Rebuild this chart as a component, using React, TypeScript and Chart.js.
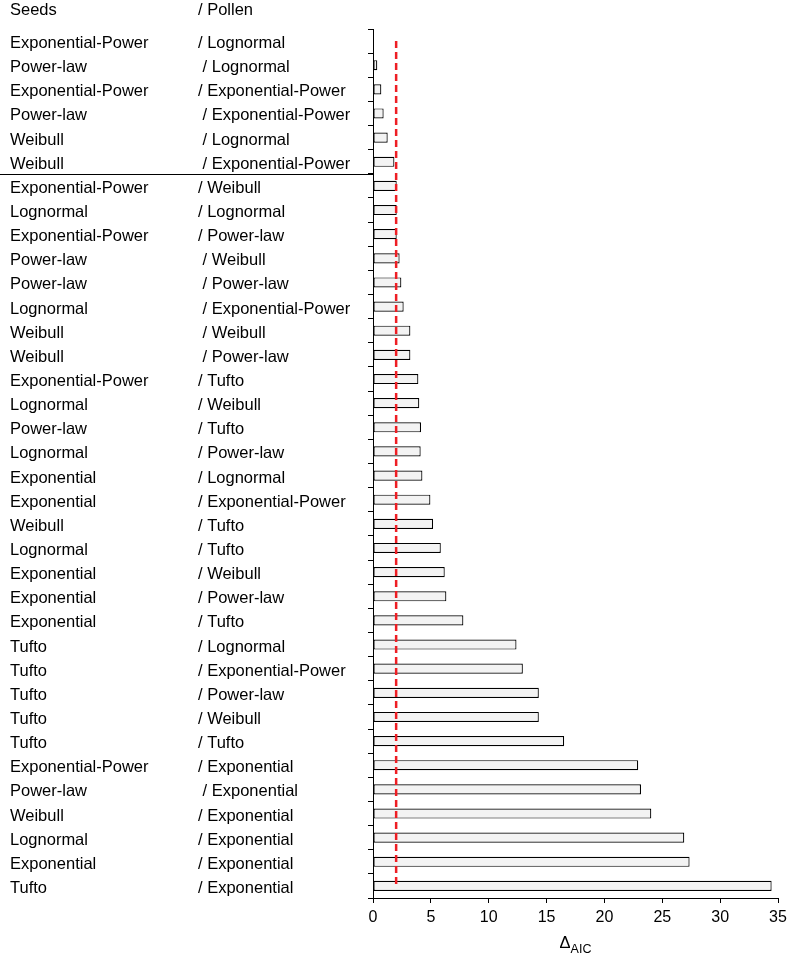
import React, { useEffect, useRef } from "react";
import { Chart, registerables } from "chart.js";

Chart.register(...registerables);

const seeds = [
  "Exponential-Power", "Power-law", "Exponential-Power", "Power-law", "Weibull", "Weibull",
  "Exponential-Power", "Lognormal", "Exponential-Power", "Power-law", "Power-law", "Lognormal",
  "Weibull", "Weibull", "Exponential-Power", "Lognormal", "Power-law", "Lognormal",
  "Exponential", "Exponential", "Weibull", "Lognormal", "Exponential", "Exponential",
  "Exponential", "Tufto", "Tufto", "Tufto", "Tufto", "Tufto",
  "Exponential-Power", "Power-law", "Weibull", "Lognormal", "Exponential", "Tufto",
];

const pollen = [
  "/ Lognormal", " / Lognormal", "/ Exponential-Power", " / Exponential-Power", " / Lognormal", " / Exponential-Power",
  "/ Weibull", "/ Lognormal", "/ Power-law", " / Weibull", " / Power-law", " / Exponential-Power",
  " / Weibull", " / Power-law", "/ Tufto", "/ Weibull", "/ Tufto", "/ Power-law",
  "/ Lognormal", "/ Exponential-Power", "/ Tufto", "/ Tufto", "/ Weibull", "/ Power-law",
  "/ Tufto", "/ Lognormal", "/ Exponential-Power", "/ Power-law", "/ Weibull", "/ Tufto",
  "/ Exponential", " / Exponential", "/ Exponential", "/ Exponential", "/ Exponential", "/ Exponential",
];

const deltaAIC = [
  0, 0.37, 0.72, 0.92, 1.27, 1.85,
  2.05, 2.05, 2.05, 2.3, 2.45, 2.65,
  3.23, 3.23, 3.92, 4.0, 4.15, 4.12,
  4.27, 4.96, 5.19, 5.86, 6.2, 6.34,
  7.81, 12.4, 12.95, 14.33, 14.33, 16.52,
  22.92, 23.16, 24.05, 26.9, 27.36, 34.45,
];

const xTicks = [0, 5, 10, 15, 20, 25, 30, 35];
const headerSeeds = "Seeds";
const headerPollen = "/ Pollen";
const threshold = 2;
const separatorAfterIndex = 5;
const titleMain = "\u0394";
const titleSub = "AIC";

const FONT = "'Liberation Sans', Arial, Helvetica, sans-serif";

export default function App() {
  const ref = useRef<HTMLCanvasElement | null>(null);

  useEffect(() => {
    const canvas = ref.current;
    if (!canvas) return;
    const labels = seeds.map((s, i) => `${s} ${pollen[i]}`);

    const overlay = {
      id: "overlay",
      afterDatasetsDraw(chart: any) {
        const { ctx, scales } = chart;
        const x = scales.x.getPixelForValue(threshold);
        const y0 = scales.y.getPixelForValue(0);
        const y1 = scales.y.getPixelForValue(labels.length - 1);
        ctx.save();
        ctx.strokeStyle = "rgb(238,30,36)";
        ctx.lineWidth = 2.5;
        ctx.setLineDash([7, 4]);
        ctx.beginPath();
        ctx.moveTo(x, y0);
        ctx.lineTo(x, y1);
        ctx.stroke();
        ctx.restore();
      },
      afterDraw(chart: any) {
        const { ctx, scales, chartArea } = chart;
        const ys = scales.y;
        ctx.save();
        ctx.fillStyle = "#000";
        ctx.font = `16.5px ${FONT}`;
        ctx.textAlign = "left";
        ctx.textBaseline = "alphabetic";
        const col1 = 10;
        const col2 = 198;
        ctx.fillText(headerSeeds, col1, chartArea.top - 14);
        ctx.fillText(headerPollen, col2, chartArea.top - 14);
        for (let i = 0; i < seeds.length; i++) {
          const y = ys.getPixelForValue(i) + 7;
          ctx.fillText(seeds[i], col1, y);
          ctx.fillText(pollen[i], col2, y);
        }
        // separator line
        const ySep = (ys.getPixelForValue(separatorAfterIndex) + ys.getPixelForValue(separatorAfterIndex + 1)) / 2;
        ctx.strokeStyle = "#000";
        ctx.lineWidth = 1;
        ctx.beginPath();
        ctx.moveTo(0, Math.round(ySep) + 0.5);
        ctx.lineTo(chartArea.left, Math.round(ySep) + 0.5);
        ctx.stroke();
        // x title
        ctx.font = `16.5px ${FONT}`;
        const w1 = ctx.measureText(titleMain).width;
        ctx.font = `12.5px ${FONT}`;
        const w2 = ctx.measureText(titleSub).width;
        const cx = (chartArea.left + chartArea.right) / 2;
        const sx = cx - (w1 + w2) / 2;
        ctx.font = `16.5px ${FONT}`;
        ctx.fillText(titleMain, sx, chartArea.bottom + 50);
        ctx.font = `12.5px ${FONT}`;
        ctx.fillText(titleSub, sx + w1, chartArea.bottom + 55);
        ctx.restore();
      },
    };

    const chart = new Chart(canvas, {
      type: "bar",
      data: {
        labels,
        datasets: [
          {
            data: deltaAIC,
            backgroundColor: "#f3f3f3",
            borderColor: "#000",
            borderWidth: 1.2,
            borderSkipped: false,
            barPercentage: 0.42,
            categoryPercentage: 1,
          },
        ],
      },
      options: {
        indexAxis: "y",
        animation: false,
        responsive: true,
        maintainAspectRatio: false,
        layout: { padding: { left: 368, top: 29, right: 9, bottom: 0 } },
        plugins: {
          legend: { display: false },
          tooltip: { enabled: false },
          title: { display: false },
        },
        scales: {
          x: {
            type: "linear",
            min: 0,
            max: 35,
            afterBuildTicks: (s: any) => {
              s.ticks = xTicks.map((v) => ({ value: v }));
            },
            afterFit: (s: any) => {
              s.height = 60;
              s.paddingLeft = 0;
              s.paddingRight = 0;
            },
            ticks: {
              color: "#000",
              font: { family: FONT, size: 16 },
              padding: 5,
              maxRotation: 0,
              autoSkip: false,
            },
            grid: {
              drawOnChartArea: false,
              drawTicks: true,
              tickLength: 5,
              color: "#000",
              lineWidth: 1,
            },
            border: { display: true, color: "#000", width: 1 },
          },
          y: {
            type: "category",
            offset: true,
            afterFit: (s: any) => {
              s.width = 5;
            },
            ticks: { display: false },
            grid: {
              offset: true,
              drawOnChartArea: false,
              drawTicks: true,
              tickLength: 5,
              color: "#000",
              lineWidth: 1,
            },
            border: { display: true, color: "#000", width: 1 },
          },
        },
      },
      plugins: [overlay],
    });

    return () => chart.destroy();
  }, []);

  return (
    <div style={{ position: "absolute", left: 0, top: 0, width: 787, height: 958 }}>
      <canvas ref={ref} />
    </div>
  );
}
